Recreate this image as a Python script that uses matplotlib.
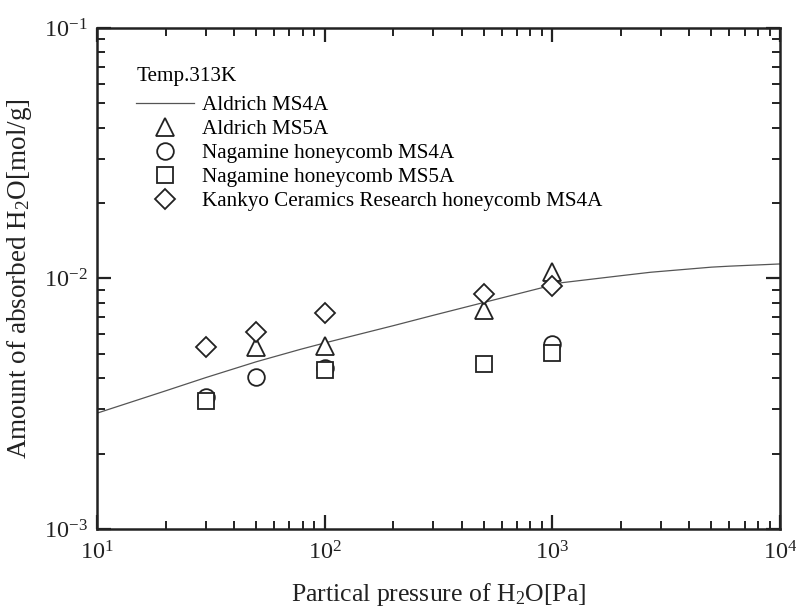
import numpy as np
import matplotlib
matplotlib.use("Agg")
import matplotlib.pyplot as plt

# Schrift: Times-artig
plt.rcParams['font.family'] = ['Liberation Serif', 'DejaVu Serif']
plt.rcParams['mathtext.fontset'] = 'custom'
plt.rcParams['mathtext.rm'] = 'Liberation Serif'
plt.rcParams['mathtext.it'] = 'Liberation Serif:italic'

# Aldrich MS4A (Kurve)
line_p = [10, 20, 30, 50, 78, 100, 200, 300, 550, 1100, 2000, 2700, 5000, 6000, 10000]
line_q = [2.90e-3, 3.56e-3, 4.02e-3, 4.65e-3, 5.21e-3, 5.53e-3, 6.48e-3, 7.13e-3,
          8.2e-3, 9.62e-3, 1.026e-2, 1.059e-2, 1.11e-2, 1.12e-2, 1.143e-2]

# Messpunkte
ms5a_p = [50, 100, 500, 1000]
ms5a_q = [5.33e-3, 5.37e-3, 7.48e-3, 1.057e-2]

nag4a_p = [30, 50, 100, 1000]
nag4a_q = [3.38e-3, 4.06e-3, 4.39e-3, 5.48e-3]

nag5a_p = [30, 100, 500, 1000]
nag5a_q = [3.23e-3, 4.33e-3, 4.56e-3, 5.03e-3]

kankyo_p = [30, 50, 100, 500, 1000]
kankyo_q = [5.33e-3, 6.13e-3, 7.26e-3, 8.65e-3, 9.3e-3]

fig = plt.figure(figsize=(7.96, 6.10), dpi=100)
ax = fig.add_axes([0.1219, 0.1328, 0.858, 0.8213])

mk = dict(linestyle='none', markerfacecolor='white', markeredgecolor='#222222',
          markeredgewidth=1.3)

ax.plot(line_p, line_q, color='#555555', linewidth=0.9, label='Aldrich MS4A')
ax.plot(ms5a_p, ms5a_q, marker='^', markersize=13, label='Aldrich MS5A', **mk)
ax.plot(nag4a_p, nag4a_q, marker='o', markersize=12, label='Nagamine honeycomb MS4A', **mk)
ax.plot(nag5a_p, nag5a_q, marker='s', markersize=11, label='Nagamine honeycomb MS5A', **mk)
ax.plot(kankyo_p, kankyo_q, marker='D', markersize=10.5,
        label='Kankyo Ceramics Research honeycomb MS4A', **mk)

ax.set_xscale('log')
ax.set_yscale('log')
ax.set_xlim(10, 1e4)
ax.set_ylim(1e-3, 1e-1)

for s in ax.spines.values():
    s.set_linewidth(1.8)
    s.set_color('#222222')

ax.tick_params(which='both', direction='in', top=True, right=True,
               labelsize=17.5, colors='#222222')
ax.tick_params(axis='y', pad=7)
ax.tick_params(axis='x', pad=9)
ax.tick_params(which='major', length=10, width=1.6)
ax.tick_params(which='minor', length=6, width=1.4)

ax.set_xlabel('Partical pressure of H$_2$O[Pa]', fontsize=18.5, color='#222222')
ax.set_ylabel('Amount of absorbed H$_2$O[mol/g]', fontsize=19.5, color='#222222')
ax.xaxis.set_label_coords(0.5, -0.104)
ax.yaxis.set_label_coords(-0.092, 0.5)

leg = ax.legend(loc='upper left', bbox_to_anchor=(0.045, 0.94), frameon=False,
                fontsize=15.2, title='Temp.313K', title_fontsize=15.2,
                alignment='left', handlelength=2.75, handletextpad=0.35,
                labelspacing=0.2, borderaxespad=0)
leg._legend_box.sep = 7

fig.savefig('out.png', dpi=100)
